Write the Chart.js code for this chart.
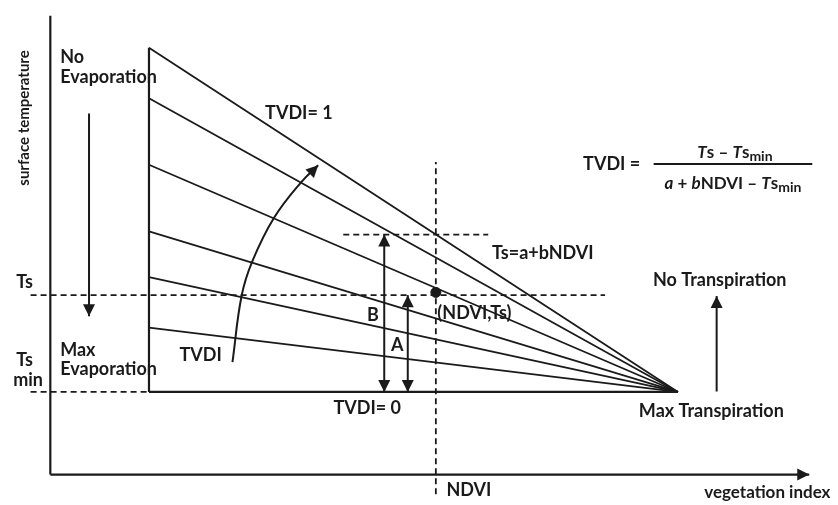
<!DOCTYPE html>
<html>
<head>
<meta charset="UTF-8">
<title>TVDI triangle</title>
<script src="https://cdn.jsdelivr.net/npm/chart.js"></script>
<style>
body{margin:0;background:#fff;}
#wrap{position:relative;width:838px;height:505px;}
</style>
</head>
<body>
<div id="wrap"><canvas id="myChart"></canvas></div>
<script>
// diagram units: axes corner is (0,0), both axes run to 100
var tsMin = 18;                 // wet edge, TVDI = 0
var ndviLeft = 13;              // left side of the triangle
var ndviApex = 82.7;            // all isolines meet here
var isoTs = [93, 82, 67.5, 53, 43, 32];   // isolines at the left side, top one is TVDI = 1
var ndvi = 50.8;
var ts = 39.1;
var tsDry = 52.3;               // a + b*NDVI at this NDVI

var tsLineX = [-2.6, 73.1];
var tsMinLineX = [-2.6, ndviLeft];
var ndviLineY = [-4.3, 68.1];
var dryLineX = [38.6, 57.7];
var arrowBX = 44.0;
var arrowAX = 47.1;
var evapArrowX = 5.1, evapArrowY = [78.7, 34.5];
var transArrowX = 87.8, transArrowY = [18.1, 38.9];
var arcX = [24.0, 25.2, 26.6, 29.5, 33.1, 35.3];
var arcY = [24.5, 38.9, 46.4, 56.0, 63.8, 67.4];

var ink = '#1a1a1a';
var font = 'Lato, "Open Sans", sans-serif';

var labels = [
  {t:'surface temperature', x:-3.5, y:77.7, size:15, rot:-90, align:'center'},
  {t:'No', x:1.3, y:90.9, size:18},
  {t:'Evaporation', x:1.3, y:86.6, size:18},
  {t:'Ts', x:-4.5, y:41.9, size:18},
  {t:'Ts', x:-4.5, y:24.9, size:18},
  {t:'min', x:-4.9, y:20.6, size:18},
  {t:'Max', x:1.3, y:27.2, size:18},
  {t:'Evaporation', x:1.3, y:23.0, size:18},
  {t:'TVDI', x:19.8, y:26.0, size:18, align:'center'},
  {t:'TVDI= 1', x:28.3, y:78.7, size:18},
  {t:'TVDI =', x:70.2, y:67.6, size:18},
  {t:'Ts=a+bNDVI', x:58.2, y:48.3, size:18},
  {t:'No Transpiration', x:88.2, y:42.3, size:18, align:'center'},
  {t:'Max Transpiration', x:87.1, y:13.8, size:18, align:'center'},
  {t:'TVDI= 0', x:37.3, y:14.5, size:18},
  {t:'NDVI', x:52.2, y:-3.4, size:18},
  {t:'vegetation index', x:102.8, y:-3.8, size:17, align:'right'},
  {t:'B', x:42.5, y:34.7, size:18, align:'center'},
  {t:'A', x:45.7, y:28.3, size:18, align:'center'},
  {t:'(NDVI,Ts)', x:51.0, y:35.1, size:18}
];

var numerator = [['T','i'],['s',''],[' \u2013 ',''],['T','i'],['s',''],['min','sub']];
var denominator = [['a','i'],[' + ',''],['b','i'],['NDVI',''],[' \u2013 ',''],['T','i'],['s',''],['min','sub']];
var fracX = [79.5, 100.4], fracY = 67.7;

function line(pts, extra){
  var d = {data: pts, showLine: true, borderColor: ink, borderWidth: 2, pointRadius: 0, fill: false, tension: 0};
  for (var k in extra) d[k] = extra[k];
  return d;
}
function P(x, y){ return {x: x, y: y}; }

var datasets = [];
datasets.push(line([P(0,0), P(0,100)], {borderWidth: 2.2}));
datasets.push(line([P(0,0), P(100,0)], {arrow:'end', borderWidth: 2.2}));
datasets.push(line([P(ndviLeft,tsMin), P(ndviLeft,isoTs[0])], {borderWidth: 2.2}));
datasets.push(line([P(ndviLeft,tsMin), P(ndviApex,tsMin)], {borderWidth: 2.2}));
for (var i = 0; i < isoTs.length; i++) {
  datasets.push(line([P(ndviLeft,isoTs[i]), P(ndviApex,tsMin)], {borderWidth: 1.8}));
}
var dash = {borderDash:[6,4], borderWidth:1.8};
datasets.push(line([P(tsLineX[0],ts), P(tsLineX[1],ts)], dash));
datasets.push(line([P(tsMinLineX[0],tsMin), P(tsMinLineX[1],tsMin)], dash));
datasets.push(line([P(ndvi,ndviLineY[0]), P(ndvi,ndviLineY[1])], dash));
datasets.push(line([P(dryLineX[0],tsDry), P(dryLineX[1],tsDry)], dash));
datasets.push(line([P(arrowBX,tsMin), P(arrowBX,tsDry)], {arrow:'both'}));
datasets.push(line([P(arrowAX,tsMin), P(arrowAX,ts)], {arrow:'both'}));
datasets.push(line([P(evapArrowX,evapArrowY[0]), P(evapArrowX,evapArrowY[1])], {arrow:'end'}));
datasets.push(line([P(transArrowX,transArrowY[0]), P(transArrowX,transArrowY[1])], {arrow:'end'}));
var arc = [];
for (var j = 0; j < arcX.length; j++) arc.push(P(arcX[j], arcY[j]));
datasets.push(line(arc, {arrow:'end', tension:0.4}));
datasets.push({data:[P(ndvi, ts + 0.6)], showLine:false, pointRadius:5, pointBackgroundColor:ink, pointBorderColor:ink});

function head(ctx, from, to, len){
  var a = Math.atan2(to.y - from.y, to.x - from.x);
  var w = len * 0.5;
  var bx = to.x - len * Math.cos(a), by = to.y - len * Math.sin(a);
  ctx.beginPath();
  ctx.moveTo(to.x, to.y);
  ctx.lineTo(bx + w * Math.sin(a), by - w * Math.cos(a));
  ctx.lineTo(bx - w * Math.sin(a), by + w * Math.cos(a));
  ctx.closePath();
  ctx.fill();
}

var arrowPlugin = {
  id: 'arrows',
  afterDatasetsDraw: function(chart){
    var ctx = chart.ctx;
    ctx.save();
    ctx.fillStyle = ink;
    chart.data.datasets.forEach(function(ds, i){
      if (!ds.arrow) return;
      var pts = chart.getDatasetMeta(i).data;
      var n = pts.length;
      head(ctx, pts[n-2], pts[n-1], 12);
      if (ds.arrow == 'both') head(ctx, pts[1], pts[0], 12);
    });
    ctx.restore();
  }
};

function rich(ctx, segs, cx, cy, size){
  var fontOf = function(s){
    if (s[1] == 'i') return 'italic bold ' + size + 'px ' + font;
    if (s[1] == 'sub') return 'bold ' + (size - 3) + 'px ' + font;
    return 'bold ' + size + 'px ' + font;
  };
  var total = 0;
  segs.forEach(function(s){ ctx.font = fontOf(s); total += ctx.measureText(s[0]).width; });
  var x = cx - total / 2;
  ctx.textAlign = 'left';
  segs.forEach(function(s){
    ctx.font = fontOf(s);
    ctx.fillText(s[0], x, s[1] == 'sub' ? cy + 4 : cy);
    x += ctx.measureText(s[0]).width;
  });
}

var textPlugin = {
  id: 'texts',
  afterDraw: function(chart){
    var ctx = chart.ctx, sx = chart.scales.x, sy = chart.scales.y;
    ctx.save();
    ctx.fillStyle = ink;
    ctx.textBaseline = 'middle';
    labels.forEach(function(l){
      var px = sx.getPixelForValue(l.x), py = sy.getPixelForValue(l.y);
      ctx.font = 'bold ' + l.size + 'px ' + font;
      ctx.textAlign = l.align || 'left';
      if (l.rot) {
        ctx.save();
        ctx.translate(px, py);
        ctx.rotate(l.rot * Math.PI / 180);
        ctx.fillText(l.t, 0, 0);
        ctx.restore();
      } else {
        ctx.fillText(l.t, px, py);
      }
    });
    // the TVDI formula
    var x0 = sx.getPixelForValue(fracX[0]), x1 = sx.getPixelForValue(fracX[1]);
    var fy = sy.getPixelForValue(fracY);
    ctx.strokeStyle = ink;
    ctx.lineWidth = 2;
    ctx.beginPath(); ctx.moveTo(x0, fy); ctx.lineTo(x1, fy); ctx.stroke();
    rich(ctx, numerator, (x0 + x1) / 2 + 2, fy - 11, 17);
    rich(ctx, denominator, (x0 + x1) / 2, fy + 20, 17);
    ctx.restore();
  }
};

var myChart = new Chart(document.getElementById('myChart'), {
  type: 'scatter',
  data: {datasets: datasets},
  options: {
    responsive: true,
    maintainAspectRatio: false,
    animation: false,
    layout: {padding: 0},
    plugins: {legend: {display: false}, tooltip: {enabled: false}},
    scales: {
      x: {type: 'linear', display: false, min: -5.84, max: 103.0},
      y: {type: 'linear', display: false, min: -5.32, max: 102.1}
    }
  },
  plugins: [arrowPlugin, textPlugin]
});
</script>
</body>
</html>
